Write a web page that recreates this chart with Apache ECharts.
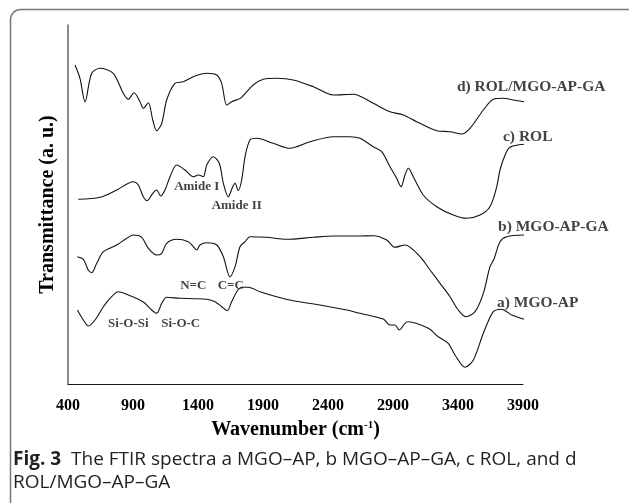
<!DOCTYPE html>
<html>
<head>
<meta charset="utf-8">
<script src="https://cdn.jsdelivr.net/npm/echarts@6/dist/echarts.min.js"></script>
<style>
html,body{margin:0;padding:0;background:#fff;}
#chart{width:629px;height:503px;}
</style>
</head>
<body>
<div id="chart"></div>
<script>
// Tick labels of the x axis (wavenumber, cm-1)
const xTicks = [400, 900, 1400, 1900, 2400, 2900, 3400, 3900];

// a) MGO-AP
const wnA = [472,518,556,608,672,723,787,864,941,992,1044,1082,1121,1159,1262,1364,1467,1531,1582,1625,1659,1698,1736,1787,1877,2005,2133,2338,2544,2646,2825,2877,2915,2948,2992,3018,3172,3248,3325,3377,3454,3518,3595,3672,3736,3775,3813,3908];
const trA = [74,64,58,64,77.3,85.7,92.3,89,84.7,80.7,74,70.7,80.7,86.7,85.7,85.3,84.7,82.3,77.3,73.3,82.3,92.3,96.7,96.7,92.3,87.3,83.3,79,74,70.7,65,59,59,54,60.7,62.3,55.7,47.3,40.7,29,16.7,24,50.7,72.3,74.7,72.3,69,64.7];

// b) MGO-AP-GA
const wnB = [472,518,556,582,621,672,775,852,902,967,1018,1082,1121,1159,1236,1325,1364,1390,1415,1467,1544,1595,1646,1685,1723,1762,1800,1928,2082,2287,2441,2646,2748,2852,2915,2992,3108,3185,3262,3338,3402,3462,3531,3595,3646,3677,3723,3775,3908];
const trB = [127.3,124.7,114,111.3,120.7,132.3,139,145.7,149,146.7,135.7,129,130.7,140.7,144.7,142.3,137.3,134,139,141.3,139,127.3,107.3,117.3,137.3,142.3,147.3,146.7,144.7,146.7,148,148,148.3,144,136.7,139,127.3,114,100.7,87.3,74,67.3,72.3,90.7,117.3,125,142.3,147.3,149];

// c) ROL
const wnC = [479,646,775,902,941,979,1010,1052,1082,1113,1146,1185,1236,1300,1364,1402,1441,1467,1518,1564,1595,1633,1667,1685,1710,1736,1762,1800,1852,1979,2108,2262,2441,2569,2646,2748,2813,2877,2928,2962,2992,3018,3056,3133,3236,3364,3467,3569,3646,3698,3723,3762,3800,3908];
const trC = [184.7,186.7,194,202.3,199,187.3,183.3,190.7,194,188,194,207.3,219,214,207.3,209,207.3,219,227.3,220.7,200.7,187.3,197.3,200.7,193.3,204,227.3,244,245.7,240.7,235.7,242.3,247.3,247.3,245.7,237.3,232.3,217.3,205.7,197.3,209,215.7,207.3,189,177.3,169,165.7,169,177.3,197.3,214,229,236.7,239.7];

// d) ROL/MGO-AP-GA
const wnD = [454,492,531,582,646,748,825,864,908,954,979,1018,1052,1082,1121,1159,1223,1287,1364,1467,1544,1582,1621,1659,1710,1736,1825,1902,2005,2133,2287,2441,2594,2748,2877,2979,3082,3236,3338,3428,3492,3595,3672,3748,3825,3908];
const trD = [319,305.7,282.3,310.7,315.7,310.7,290.7,284.7,291.3,282.3,275.7,281.3,264,253.3,260.7,284,300.7,302.3,307.3,310.7,309,300.7,279,282.3,284.7,286.7,299,304.7,305.7,304,297.3,289,289.7,280.7,272.3,269,262.3,253.3,252.3,250,255.7,274,284.7,285.7,284,282.3];

// Curve names and where their labels start (wavenumber, transmittance)
const curveNames = ['a) MGO-AP', 'b) MGO-AP-GA', 'c) ROL', 'd) ROL/MGO-AP-GA'];
const curveLabelWn = [3700, 3708, 3746, 3392];
const curveLabelTr = [81, 157, 247, 297];

// Band annotations (centre in data units)
const bandNames = ['Si-O-Si', 'Si-O-C', 'N=C', 'C=C', 'Amide I', 'Amide II'];
const bandWn = [864, 1267, 1364, 1652, 1390, 1698];
const bandTr = [60.7, 60.7, 98, 98, 197.3, 178.3];

const zip = (xs, ys) => xs.map((x, i) => [x, ys[i]]);
const serif = 'Liberation Serif';

const lineSeries = (name, xs, ys) => ({
  name, type: 'line', data: zip(xs, ys), showSymbol: false, smooth: 0.3,
  lineStyle: { color: '#111', width: 1.1 }, silent: true, z: 2
});

const chart = echarts.init(document.getElementById('chart'), null, { renderer: 'canvas' });
chart.setOption({
  animation: false,
  backgroundColor: '#fff',
  grid: { left: 68, right: 106, top: 25, bottom: 119, containLabel: false },
  xAxis: {
    type: 'value', min: 400, max: 3900,
    name: '{a|Wavenumber (cm}{s|-1}{a|)}',
    nameLocation: 'middle', nameGap: 36,
    nameTextStyle: {
      rich: {
        a: { fontFamily: serif, fontWeight: 'bold', fontSize: 20, color: '#000' },
        s: { fontFamily: serif, fontWeight: 'bold', fontSize: 11, color: '#000', padding: [0, 0, 9, 0] }
      }
    },
    axisLine: { lineStyle: { color: '#1a1a1a', width: 1 } },
    axisTick: { show: false },
    splitLine: { show: false },
    axisLabel: { customValues: xTicks, formatter: v => String(v),
      fontFamily: serif, fontWeight: 'bold', fontSize: 16, color: '#000', margin: 14 }
  },
  yAxis: {
    type: 'value', min: 0, max: 359,
    name: 'Transmittance (a. u.)', nameLocation: 'middle', nameGap: 10, nameRotate: 90,
    nameTextStyle: { fontFamily: serif, fontWeight: 'bold', fontSize: 20, color: '#000' },
    axisLine: { show: true, lineStyle: { color: '#666', width: 1.5 } },
    axisTick: { show: false }, axisLabel: { show: false }, splitLine: { show: false }
  },
  series: [
    lineSeries('a', wnA, trA),
    lineSeries('b', wnB, trB),
    lineSeries('c', wnC, trC),
    lineSeries('d', wnD, trD),
    {
      type: 'scatter', symbolSize: 0, clip: false, silent: true, z: 3,
      data: curveNames.map((n, i) => ({ name: n, value: [curveLabelWn[i], curveLabelTr[i]] })),
      label: { show: true, position: 'right', distance: 0, formatter: p => p.name,
        fontFamily: serif, fontWeight: 'bold', fontSize: 15.5, color: '#111' }
    },
    {
      type: 'scatter', symbolSize: 0, clip: false, silent: true, z: 3,
      data: bandNames.map((n, i) => ({ name: n, value: [bandWn[i], bandTr[i]] })),
      label: { show: true, position: 'inside', formatter: p => p.name,
        fontFamily: serif, fontWeight: 'bold', fontSize: 13, color: '#111' }
    }
  ],
  graphic: [
    { type: 'rect', silent: true, shape: { x: 10.5, y: 9.5, width: 640, height: 600, r: 10 },
      style: { fill: 'none', stroke: '#777', lineWidth: 1.5 } },
    { type: 'text', left: 13, top: 448, silent: true,
      style: {
        text: '{b|Fig. 3}  The FTIR spectra a MGO\u2013AP, b MGO\u2013AP\u2013GA, c ROL, and d\nROL/MGO\u2013AP\u2013GA',
        fontFamily: 'Open Sans', fontSize: 19, fill: '#231f20', lineHeight: 23,
        rich: { b: { fontFamily: 'Open Sans', fontWeight: 'bold', fontSize: 19, fill: '#231f20' } }
      } }
  ]
});
</script>
</body>
</html>
